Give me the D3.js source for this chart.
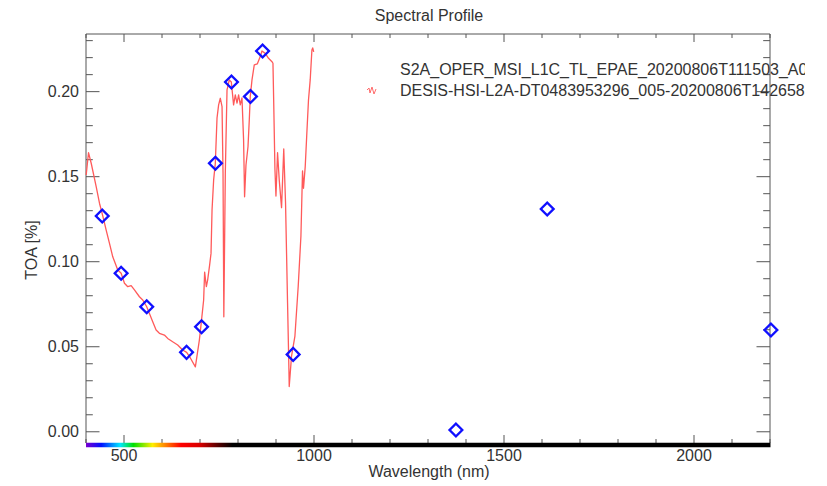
<html>
  <script src="https://d3js.org/d3.v7.min.js"></script>
  <style>
    body { margin: 0; background: #fff; }
    text { font-family: "Liberation Sans", Arial, sans-serif; fill: #333; }
  </style>
  <body>
    <div id="svgcontainer"></div>
    <script>
      // Sentinel-2 bands (blue diamonds)
      var s2Wave = [442.7, 492.4, 559.8, 664.6, 704.1, 740.5, 782.8, 832.8, 864.7, 945.1, 1373.5, 1613.7, 2202.4];
      var s2Toa = [0.1269, 0.0932, 0.0735, 0.0467, 0.0618, 0.1579, 0.2057, 0.1971, 0.2239, 0.0455, 0.0010, 0.1310, 0.0598];

      // DESIS spectrum (red line)
      var desisWave = [400.5, 406.6, 413.7, 426.8, 435.5, 444.2, 453.1, 461.8, 470.4, 483.6,
                       492.5, 501.2, 509.9, 518.8, 527.5, 540.6, 549.3, 559.8, 566.9, 575.6,
                       584.5, 593.2, 606.3, 615.0, 628.1, 641.3, 654.4, 664.9, 674.6, 687.8,
                       698.3, 702.2, 709.6, 712.2, 716.7, 720.1, 725.4, 729.0, 731.7, 735.9,
                       740.3, 744.8, 749.0, 753.5, 758.0, 760.6, 762.7, 766.6, 771.1, 777.1,
                       782.4, 788.4, 792.9, 797.4, 801.6, 806.0, 810.5, 814.7, 817.3, 821.0,
                       826.3, 829.7, 832.3, 836.8, 842.8, 850.7, 858.6, 863.1, 871.7, 880.4,
                       889.4, 892.0, 894.1, 897.2, 899.9, 904.1, 908.5, 914.6, 920.4, 925.1,
                       930.4, 934.0, 934.8, 940.9, 949.8, 958.5, 965.6, 969.8, 972.4, 976.9,
                       980.8, 985.5, 990.0, 994.5, 996.6, 999.2];
      var desisToa = [0.1510, 0.1641, 0.1579, 0.1441, 0.1344, 0.1269, 0.1186, 0.1108, 0.1029, 0.0951,
                      0.0932, 0.0873, 0.0853, 0.0859, 0.0834, 0.0794, 0.0775, 0.0735, 0.0696, 0.0647,
                      0.0598, 0.0579, 0.0569, 0.0549, 0.0529, 0.0510, 0.0481, 0.0467, 0.0434, 0.0382,
                      0.0539, 0.0618, 0.0775, 0.0939, 0.0853, 0.0892, 0.0981, 0.1049, 0.1304, 0.1481,
                      0.1579, 0.1845, 0.1922, 0.1961, 0.1912, 0.1522, 0.0676, 0.1520, 0.2010, 0.2069,
                      0.2057, 0.1922, 0.1981, 0.1932, 0.1981, 0.1922, 0.1963, 0.1716, 0.1382, 0.1569,
                      0.1676, 0.1834, 0.1971, 0.2069, 0.2157, 0.2163, 0.2206, 0.2239, 0.2225, 0.2196,
                      0.2176, 0.2167, 0.1922, 0.1544, 0.1386, 0.1641, 0.1481, 0.1318, 0.1663, 0.1347,
                      0.0759, 0.0367, 0.0266, 0.0445, 0.0563, 0.0857, 0.1151, 0.1534, 0.1432, 0.1559,
                      0.1739, 0.1951, 0.2069, 0.2245, 0.2257, 0.2234];

      var xMajor = [500, 1000, 1500, 2000];
      var yMajor = [0, 0.05, 0.10, 0.15, 0.20];
      var yLabels = ["0.00", "0.05", "0.10", "0.15", "0.20"];

      var legendNames = ["S2A_OPER_MSI_L1C_TL_EPAE_20200806T111503_A026",
                         "DESIS-HSI-L2A-DT0483953296_005-20200806T142658-V0210"];

      // colour bar under the x axis (wavelength -> colour)
      var specWave = [400, 440, 490, 525, 575, 610, 650, 700, 750, 785, 2200];
      var specColor = ["#7a00d0", "#0010ff", "#00e8ff", "#00e000", "#ffee00", "#ff8000",
                       "#ff0000", "#d80000", "#500000", "#000000", "#000000"];

      var width = 827;
      var height = 486;
      var svg = d3.select("#svgcontainer")
        .append("svg").attr("width", width).attr("height", height);

      // plot box (pixels)
      var pL = 86, pR = 770, pT = 34, pB = 443;

      var x = d3.scaleLinear().domain([400, 2200]).range([pL, pR]);
      var y = d3.scaleLinear().domain([-0.0066, 0.2339]).range([pB, pT]);

      // title
      svg.append("text")
        .attr("x", 429).attr("y", 21)
        .attr("text-anchor", "middle")
        .style("font-size", "16px")
        .text("Spectral Profile");

      // gradient for the bottom bar
      var defs = svg.append("defs");
      var grad = defs.append("linearGradient")
        .attr("id", "spec")
        .attr("gradientUnits", "userSpaceOnUse")
        .attr("x1", pL).attr("x2", pR).attr("y1", 0).attr("y2", 0);
      grad.selectAll("stop")
        .data(specWave)
        .enter().append("stop")
        .attr("offset", function(d) { return (x(d) - pL) / (pR - pL); })
        .attr("stop-color", function(d, i) { return specColor[i]; });

      // frame
      var axisColor = "#555";
      svg.append("line").attr("x1", pL).attr("x2", pR).attr("y1", pT).attr("y2", pT)
        .attr("stroke", axisColor);
      svg.append("line").attr("x1", pL).attr("x2", pL).attr("y1", pT).attr("y2", pB)
        .attr("stroke", axisColor);
      svg.append("line").attr("x1", pR).attr("x2", pR).attr("y1", pT).attr("y2", pB)
        .attr("stroke", axisColor);

      // x ticks (bottom and top, pointing inwards)
      var xMinor = d3.range(400, 2201, 100);
      xMinor.forEach(function(v) {
        var len = xMajor.indexOf(v) >= 0 ? 8 : 4;
        svg.append("line").attr("x1", x(v)).attr("x2", x(v))
          .attr("y1", pB).attr("y2", pB - len).attr("stroke", axisColor);
        svg.append("line").attr("x1", x(v)).attr("x2", x(v))
          .attr("y1", pT).attr("y2", pT + len).attr("stroke", axisColor);
      });

      // y ticks (left and right)
      var yMinor = d3.range(0, 24).map(function(i) { return i / 100; });
      yMinor.forEach(function(v, i) {
        var len = i % 5 == 0 ? 13.5 : 6.8;
        svg.append("line").attr("x1", pL).attr("x2", pL + len)
          .attr("y1", y(v)).attr("y2", y(v)).attr("stroke", axisColor);
        svg.append("line").attr("x1", pR).attr("x2", pR - len)
          .attr("y1", y(v)).attr("y2", y(v)).attr("stroke", axisColor);
      });

      // coloured bottom axis
      svg.append("line")
        .attr("x1", pL).attr("x2", pR + 0.5)
        .attr("y1", pB + 2).attr("y2", pB + 2)
        .attr("stroke", "url(#spec)")
        .attr("stroke-width", 4.5);

      // tick labels
      svg.selectAll(".xlab")
        .data(xMajor)
        .enter().append("text")
        .attr("x", function(d) { return x(d); })
        .attr("y", 461)
        .attr("text-anchor", "middle")
        .style("font-size", "16px")
        .text(function(d) { return d; });

      svg.selectAll(".ylab")
        .data(yMajor)
        .enter().append("text")
        .attr("x", 79)
        .attr("y", function(d) { return y(d) + 5.5; })
        .attr("text-anchor", "end")
        .style("font-size", "16px")
        .text(function(d, i) { return yLabels[i]; });

      // axis titles
      svg.append("text")
        .attr("x", 429).attr("y", 477)
        .attr("text-anchor", "middle")
        .style("font-size", "16px")
        .text("Wavelength (nm)");

      svg.append("text")
        .attr("transform", "translate(37,250) rotate(-90)")
        .attr("text-anchor", "middle")
        .style("font-size", "16px")
        .text("TOA [%]");

      // red DESIS line
      var lineFunc = d3.line()
        .x(function(d) { return x(d); })
        .y(function(d, i) { return y(desisToa[i]); });

      svg.append("path")
        .attr("d", lineFunc(desisWave))
        .attr("stroke", "#ff5a5a")
        .attr("stroke-width", 1.3)
        .attr("stroke-linejoin", "round")
        .attr("fill", "none");

      // blue S2 diamonds
      var diamond = d3.symbol().type(d3.symbolSquare).size(82);
      svg.selectAll(".s2")
        .data(s2Wave)
        .enter().append("path")
        .attr("d", diamond)
        .attr("transform", function(d, i) {
          return "translate(" + x(d) + "," + y(s2Toa[i]) + ") rotate(45)";
        })
        .attr("stroke", "#1010ff")
        .attr("stroke-width", 2.3)
        .attr("fill", "none");

      // legend (clipped at the right like the original)
      defs.append("clipPath").attr("id", "legclip")
        .append("rect").attr("x", 0).attr("y", 0).attr("width", 805).attr("height", height);

      var leg = svg.append("g").attr("clip-path", "url(#legclip)");
      leg.selectAll("text")
        .data(legendNames)
        .enter().append("text")
        .attr("x", 400)
        .attr("y", function(d, i) { return 75 + i * 21; })
        .style("font-size", "16px")
        .text(function(d) { return d; });

      // small red sample next to the DESIS entry
      svg.append("path")
        .attr("d", "M367,90 L369,88 L370,93 L372,87 L374,94 L376,89")
        .attr("stroke", "#ff6a6a")
        .attr("stroke-width", 1)
        .attr("fill", "none");
    </script>
  </body>
</html>
